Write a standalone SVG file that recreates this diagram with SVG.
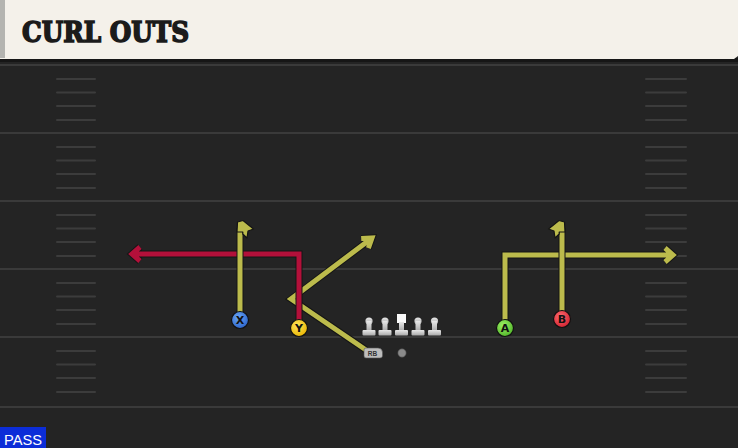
<svg xmlns="http://www.w3.org/2000/svg" width="738" height="448" viewBox="0 0 738 448">
<defs>
<style>
.yl{stroke:#3a3a3a;stroke-width:2;fill:none}
.hm{stroke:#3c3c3c;stroke-width:2;stroke-linecap:round}
.o{fill:none;stroke:#151515;stroke-width:7;stroke-linejoin:miter;stroke-linecap:butt}
.y{fill:none;stroke:#bcbb4c;stroke-width:5;stroke-linejoin:miter;stroke-linecap:butt}
.r{fill:none;stroke:#b3103a;stroke-width:5;stroke-linejoin:miter;stroke-linecap:butt}
.fo{fill:#bcbb4c;stroke:#151515;stroke-width:1.2;stroke-linejoin:round}
.pl{stroke:#111;stroke-width:1.2}
.lt{font-family:"DejaVu Sans","Liberation Sans",sans-serif;font-weight:bold;font-size:11px;fill:#111;text-anchor:middle}
.ln{fill:url(#lg)}
</style>
<linearGradient id="lg" x1="0" y1="0" x2="0" y2="1"><stop offset="0" stop-color="#e8e8e8"/><stop offset="1" stop-color="#a9a9a9"/></linearGradient>
<radialGradient id="gx" cx="0.4" cy="0.35" r="0.7"><stop offset="0" stop-color="#6aa6f5"/><stop offset="1" stop-color="#2a62c8"/></radialGradient>
<radialGradient id="gy" cx="0.4" cy="0.35" r="0.7"><stop offset="0" stop-color="#ffe45a"/><stop offset="1" stop-color="#e8b400"/></radialGradient>
<radialGradient id="ga" cx="0.4" cy="0.35" r="0.7"><stop offset="0" stop-color="#9cf064"/><stop offset="1" stop-color="#4fb428"/></radialGradient>
<radialGradient id="gb" cx="0.4" cy="0.35" r="0.7"><stop offset="0" stop-color="#ff6a70"/><stop offset="1" stop-color="#d0202e"/></radialGradient>
<g id="lineman"><circle cx="0" cy="321" r="3.6"/><rect x="-2.5" y="321" width="5" height="10"/><rect x="-6.5" y="330" width="13" height="5.5" rx="1"/></g>
</defs>
<rect x="0" y="0" width="738" height="448" fill="#242424"/>
<g id="field">
<line class="yl" x1="0" y1="65" x2="738" y2="65"/>
<line class="yl" x1="0" y1="133" x2="738" y2="133"/>
<line class="yl" x1="0" y1="201" x2="738" y2="201"/>
<line class="yl" x1="0" y1="269" x2="738" y2="269"/>
<line class="yl" x1="0" y1="337" x2="738" y2="337"/>
<line class="yl" x1="0" y1="407" x2="738" y2="407"/>
<g class="hm">
<path d="M57,79H95M57,92.5H95M57,106H95M57,120H95M57,147H95M57,160.5H95M57,174H95M57,188H95M57,215H95M57,228.5H95M57,242H95M57,256H95M57,283H95M57,296.5H95M57,310H95M57,324H95M57,351H95M57,364.5H95M57,378H95M57,392H95"/>
<path d="M646,79H686M646,92.5H686M646,106H686M646,120H686M646,147H686M646,160.5H686M646,174H686M646,188H686M646,215H686M646,228.5H686M646,242H686M646,256H686M646,283H686M646,296.5H686M646,310H686M646,324H686M646,351H686M646,364.5H686M646,378H686M646,392H686"/>
</g>
</g>
<g id="header">
<rect x="0" y="58" width="738" height="4" fill="#161616"/>
<path d="M0,0H738V56L734,59H0Z" fill="#f4f1ea"/>
<rect x="0" y="0" width="5" height="58" fill="#b4b4b0"/>
<text x="22" y="42" font-family="DejaVu Serif,'Liberation Serif',serif" font-weight="900" font-size="27" fill="#1b1b1b" stroke="#1b1b1b" stroke-width="1.6" stroke-linejoin="miter" textLength="167" lengthAdjust="spacingAndGlyphs">CURL OUTS</text>
</g>
<g id="connectors">
<g id="route-rb">
<path class="o" d="M366,350L291,299L372,238M361.2,238.6L372,238L368.4,248.2"/>
<path class="y" d="M366,350L291,299L372,238M361.2,238.6L372,238L368.4,248.2"/>
</g>
<g id="route-y">
<path class="o" d="M299,321V254H132M140,247L132,254L140,261"/>
<path class="r" d="M299,321V254H132M140,247L132,254L140,261"/>
</g>
<g id="route-x">
<path class="o" d="M240,312V228"/>
<path class="y" d="M240,312V228"/>
<path class="fo" d="M237,232L237.5,222L243,220.5L253.5,229L248,231L247,238L242.8,234L242.8,232Z"/>
</g>
<g id="route-a">
<path class="o" d="M505,321V255H673M665,248L673,255L665,262"/>
<path class="y" d="M505,321V255H673M665,248L673,255L665,262"/>
</g>
<g id="route-b">
<path class="o" d="M562,312V228"/>
<path class="y" d="M562,312V228"/>
<path class="fo" d="M565,232L564.5,222L559,220.5L548.5,229L554,231L555,238L559.2,234L559.2,232Z"/>
</g>
</g>
<g id="node-x"><circle class="pl" cx="240" cy="320" r="8.5" fill="url(#gx)"/><text class="lt" x="240" y="324">X</text></g>
<g id="node-y"><circle class="pl" cx="299" cy="328" r="8.5" fill="url(#gy)"/><text class="lt" x="299" y="332">Y</text></g>
<g id="node-a"><circle class="pl" cx="505" cy="328" r="8.5" fill="url(#ga)"/><text class="lt" x="505" y="332">A</text></g>
<g id="node-b"><circle class="pl" cx="562" cy="319" r="8.5" fill="url(#gb)"/><text class="lt" x="562" y="323">B</text></g>
<g id="line" class="ln">
<use href="#lineman" x="369"/>
<use href="#lineman" x="385"/>
<g transform="translate(401.5,0)"><rect x="-4.5" y="314" width="9" height="9" fill="#fafafa"/><rect x="-2.5" y="322" width="5" height="9"/><rect x="-6.5" y="330" width="13" height="5.5" rx="1"/></g>
<use href="#lineman" x="418"/>
<use href="#lineman" x="434.5"/>
</g>
<g id="node-rb"><path d="M366,348H378Q382,348 382.5,352V356Q382.5,358 380,358H366Q364,358 364,356V350Q364,348 366,348Z" fill="#bdbdbd" stroke="#555" stroke-width="0.6"/><text x="372.5" y="356" font-family="'Liberation Sans',sans-serif" font-weight="bold" font-size="6.5" fill="#333" text-anchor="middle">RB</text></g>
<g id="node-qb"><circle cx="402" cy="353" r="4.2" fill="#8a8a8a" stroke="#444" stroke-width="0.6"/></g>
<g id="pass"><rect x="0" y="427" width="46" height="21" fill="#0c2dd8"/><text x="4" y="445" font-family="'Liberation Sans',Roboto,sans-serif" font-size="15" fill="#ffffff" textLength="38" lengthAdjust="spacingAndGlyphs">PASS</text></g>
</svg>
